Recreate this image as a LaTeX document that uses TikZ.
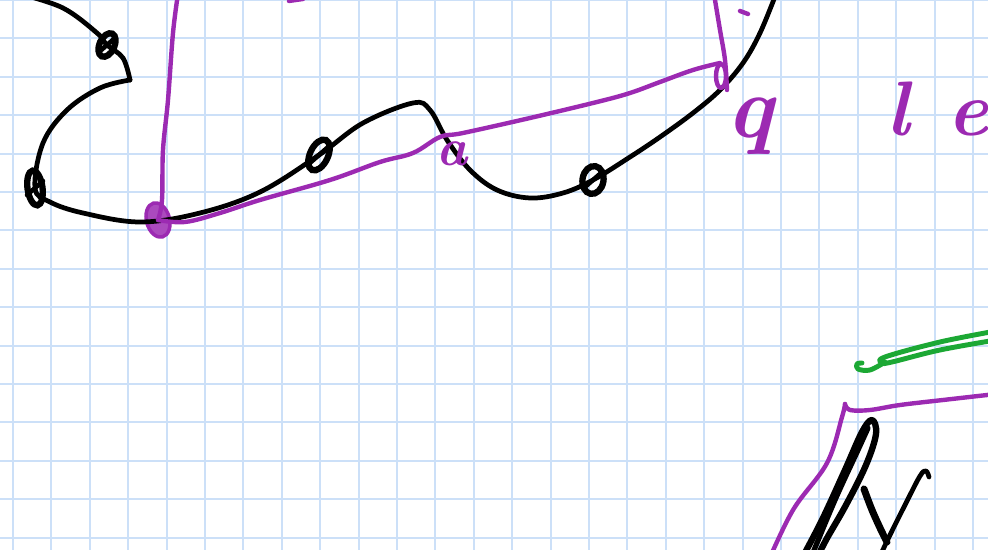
\documentclass[tikz,border=0pt]{standalone}
\usepackage{tikz}
\usetikzlibrary{shapes.geometric}
\definecolor{cgrid}{RGB}{204,224,248}
\definecolor{cpurple}{RGB}{156,42,178}
\definecolor{cgreen}{RGB}{28,168,52}

\begin{document}
\begin{tikzpicture}[
  x={(0.02cm,0)},y={(0,-0.02cm)},
  gridline/.style={cgrid,line width=1.1pt},
  ink/.style={black,line width=2.7pt,line cap=round,line join=round},
  violet/.style={cpurple,line width=2.5pt,line cap=round,line join=round},
  marker/.style={cgreen,line width=2.8pt,line cap=round,line join=round},
  vmark/.style={ellipse,draw=black,line width=3.6pt,minimum width=0.3cm,minimum height=0.5cm,inner sep=0pt},
  blob/.style={ellipse,draw=cpurple,fill=cpurple!85,line width=2pt,minimum width=0.46cm,minimum height=0.7cm,inner sep=0pt},
  hand/.style={cpurple,inner sep=0pt}
]
  \useasboundingbox (0,0) rectangle (988,550);
  \clip (0,0) rectangle (988,550);
  \fill[white] (0,0) rectangle (988,550);

  % squared paper
  \foreach \i in {0,...,25}
    \draw[gridline] ({13+38.4*\i},0) -- ++(0,550);
  \foreach \j in {0,...,14}
    \draw[gridline] (0,{38.4*\j}) -- ++(988,0);

  % vertices on the black curve
  \node[vmark,rotate=-25] (v1) at (107,45) {};
  \node[vmark,rotate=8,minimum height=0.7cm] (v2) at (35,188) {};
  \node[vmark,rotate=-25,minimum width=0.36cm,minimum height=0.66cm] (v3) at (319,155) {};
  \node[vmark,rotate=-10,minimum width=0.42cm,minimum height=0.56cm] (v4) at (593,180) {};
  \node[blob,rotate=15] (root) at (158,220) {};

  % black curve
  \draw[ink] plot[smooth,tension=0.6] coordinates {(20,-6) (63,8) (97,33) (v1.center) (123,58) (130,80)};
  \draw[ink] plot[smooth,tension=0.6] coordinates {(130,80) (100,88) (67,110) (43,143) (v2.center) (50,202)
    (83,213) (140,222) (200,213) (260,192) (v3.center) (363,123) (413,103) (430,110) (447,140) (470,170)
    (497,190) (530,198) (563,193) (v4.center) (630,157) (660,137) (693,113) (720,90) (743,63) (760,33) (776,-6)};
  \foreach \v in {v1,v2,v3,v4}
    \draw[ink,line width=2.6pt] ([shift={(-8,7)}]\v.center) -- ([shift={(8,-7)}]\v.center);

  % purple lines
  \draw[violet] plot[smooth,tension=0.6] coordinates {(178,-6) (173,33) (168,100) (163,150) (162,200) (root.center)};
  \draw[violet] plot[smooth,tension=0.6] coordinates {(root.center) (185,222) (220,213) (260,200) (330,180)
    (380,162) (413,153) (440,137) (463,133) (530,118) (597,102) (630,93) (660,82) (693,70) (720,63)};
  \draw[violet] plot[smooth,tension=0.6] coordinates {(714,-6) (720,30) (725,60) (727,90)};
  \draw[violet] (721,76) ellipse [x radius=5,y radius=12];
  \draw[violet] (289,1) -- (303,-1);
  \draw[violet] (740,11) -- (748,14);

  % letters
  \node[hand,font=\fontsize{30}{30}\selectfont\bfseries\itshape,anchor=base] (la) at (452,166) {a};
  \node[hand,font=\fontsize{50}{50}\selectfont\bfseries\itshape,anchor=base] (lq) at (750,138) {q};
  \node[hand,font=\fontsize{44}{44}\selectfont\bfseries\itshape,anchor=base west] (lle) at (886,136) {l\enspace e};

  % lower right
  \draw[marker] plot[smooth,tension=0.6] coordinates {(996,331) (940,342) (885,357) (882,363) (892,362) (940,350) (996,340)};
  \draw[marker] plot[smooth,tension=0.6] coordinates {(885,362) (870,370) (858,369) (857,364) (862,363)};
  \draw[violet] plot[smooth,tension=0.6] coordinates {(768,562) (793,510) (827,463) (842,417) (845,404)};
  \draw[violet] plot[smooth,tension=0.6] coordinates {(845,404) (850,410) (870,410) (900,405) (943,400) (996,394)};
  \draw[ink,line width=3.6pt] plot[smooth,tension=0.6] coordinates {(800,562) (822,520) (845,470) (862,432) (872,420) (876,434) (866,465) (846,505) (826,540) (815,562)};
  \draw[ink,line width=3pt] plot[smooth,tension=0.6] coordinates {(810,560) (835,500) (858,450) (868,428)};
  \draw[ink,line width=4pt] plot[smooth,tension=0.6] coordinates {(864,489) (872,510) (881,530) (887,542)};
  \draw[ink] plot[smooth,tension=0.6] coordinates {(929,477) (926,471) (920,476) (905,505) (890,535) (880,556)};
\end{tikzpicture}
\end{document}
